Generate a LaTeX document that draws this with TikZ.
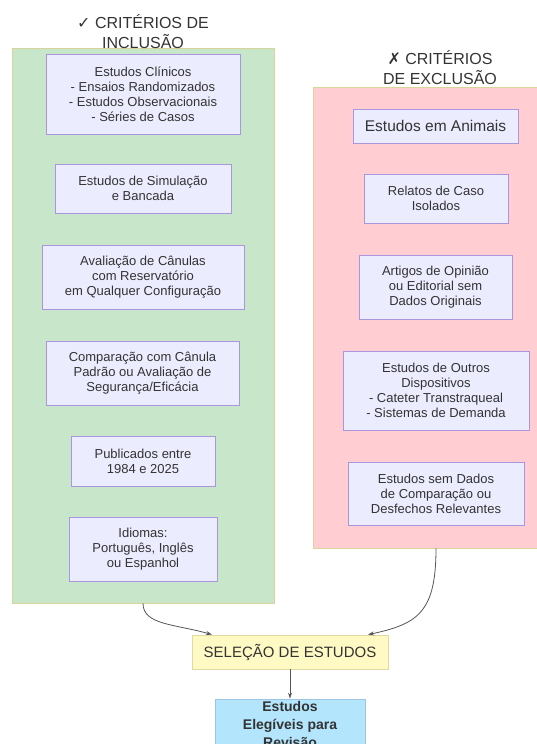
\documentclass[tikz,border=0pt]{standalone}
\usepackage{fontspec}
\setmainfont{Liberation Sans}
\newfontfamily\symfont{DejaVu Sans}
\usetikzlibrary{arrows.meta}

\definecolor{inclfill}{HTML}{C8E6C9}
\definecolor{exclfill}{HTML}{FFCDD2}
\definecolor{groupline}{HTML}{D8D49C}
\definecolor{critfill}{HTML}{ECECFF}
\definecolor{critline}{HTML}{A996DE}
\definecolor{selfill}{HTML}{FFF9C4}
\definecolor{selline}{HTML}{E2D9A0}
\definecolor{finalfill}{HTML}{B3E5FC}
\definecolor{finalline}{HTML}{9DC6E6}
\definecolor{txt}{HTML}{333333}
\definecolor{linkcol}{HTML}{555555}

\begin{document}
\begin{tikzpicture}[x=1pt,y=-1pt,
   group/.style={draw=groupline,line width=0.8pt,inner sep=0pt},
   grouptitle/.style={text=txt,align=center,font=\fontsize{16}{20}\selectfont},
   crit/.style={draw=critline,fill=critfill,line width=0.7pt,text=txt,align=center,
     inner sep=0pt,font=\fontsize{13}{15}\selectfont},
   link/.style={draw=linkcol,line width=0.8pt,-{Stealth[length=6pt,width=4pt]}}]
   \useasboundingbox (0,0) rectangle (537,744);
   \clip (0,0) rectangle (537,744);
   % inclusion group
   \node[group,fill=inclfill,minimum width=262,minimum height=555] (incl) at (143,325.5) {};
   \node[grouptitle] (incltitle) at (143,32) {{\symfont ✓} CRITÉRIOS DE\\INCLUSÃO};
   \node[crit,minimum width=194,minimum height=80] (clin) at (143,94)
      {Estudos Clínicos\\- Ensaios Randomizados\\- Estudos Observacionais\\- Séries de Casos};
   \node[crit,minimum width=176,minimum height=49] (sim) at (143,188.5) {Estudos de Simulação\\e Bancada};
   \node[crit,minimum width=202,minimum height=64] (aval) at (143,277)
      {Avaliação de Cânulas\\com Reservatório\\em Qualquer Configuração};
   \node[crit,minimum width=193,minimum height=64] (comp) at (142.5,373)
      {Comparação com Cânula\\Padrão ou Avaliação de\\Segurança/Eficácia};
   \node[crit,minimum width=144,minimum height=50] (publ) at (143,461) {Publicados entre\\1984 e 2025};
   \node[crit,minimum width=148,minimum height=64] (idiom) at (143,549) {Idiomas:\\Português, Inglês\\ou Espanhol};
   % exclusion group
   \node[group,fill=exclfill,minimum width=246,minimum height=461] (excl) at (436,317.5) {};
   \node[grouptitle] (excltitle) at (440,68) {{\symfont ✗} CRITÉRIOS\\DE EXCLUSÃO};
   \node[crit,minimum width=165,minimum height=34,font=\fontsize{15.5}{18}\selectfont] (anim) at (435.5,126)
      {Estudos em Animais};
   \node[crit,minimum width=144,minimum height=49] (relat) at (436,198.5) {Relatos de Caso\\Isolados};
   \node[crit,minimum width=153,minimum height=64] (opin) at (435.5,287)
      {Artigos de Opinião\\ou Editorial sem\\Dados Originais};
   \node[crit,minimum width=186,minimum height=79] (outros) at (436,390.5)
      {Estudos de Outros\\Dispositivos\\- Cateter Transtraqueal\\- Sistemas de Demanda};
   \node[crit,minimum width=176,minimum height=63] (semdados) at (436,493.5)
      {Estudos sem Dados\\de Comparação ou\\Desfechos Relevantes};
   % selection and result
   \node[draw=selline,fill=selfill,line width=0.8pt,text=txt,inner sep=0pt,minimum width=196,minimum height=34,
      font=\fontsize{15}{18}\selectfont] (sel) at (290,652) {SELEÇÃO DE ESTUDOS};
   \node[draw=finalline,fill=finalfill,line width=0.8pt,text=txt,inner sep=0pt,align=center,minimum width=150,
      minimum height=50,font=\bfseries\fontsize{14}{18}\selectfont] (elig) at (290,724) {Estudos\\Elegíveis para\\Revisão};
   % connectors
   \draw[link] (incl.south) .. controls (143,625) and (175,624) .. ([xshift=-78pt]sel.north);
   \draw[link] (excl.south) .. controls (436,612) and (418,624) .. ([xshift=78pt]sel.north);
   \draw[link] (sel.south) -- (elig.north);
\end{tikzpicture}
\end{document}
